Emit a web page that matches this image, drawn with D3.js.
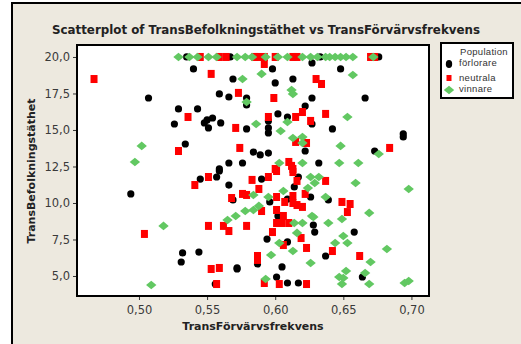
<!DOCTYPE html>
<html>
<head>
<meta charset="utf-8">
<script src="https://cdn.jsdelivr.net/npm/d3@7"></script>
<style>
  body { margin: 0; background: #fff; }
  svg text { font-family: "DejaVu Sans", Verdana, sans-serif; }
  svg .legend text { font-family: "Liberation Sans", Arial, sans-serif; }
</style>
</head>
<body>
<svg id="chart"></svg>
<script>
// förlorare (black circles)
const forlorare = [
  [0.535,20],[0.567,20],[0.633,20],[0.676,20],
  [0.540,19.18],[0.507,17.19],[0.529,16.44],[0.543,16.44],[0.526,15.41],[0.534,14.04],
  [0.494,10.62],[0.545,11.64],[0.532,6.58],[0.531,5.96],[0.544,6.64],[0.556,4.45],
  [0.572,5.55],[0.572,5.48],[0.557,11.78],[0.559,12.19],[0.569,10.21],[0.566,11.23],
  [0.587,5.82],[0.590,11.64],[0.617,11.78],[0.614,11.10],[0.596,10.07],[0.609,10.27],
  [0.626,10.41],[0.602,9.11],[0.628,8.49],[0.629,8.01],[0.594,7.53],[0.609,7.33],
  [0.605,5.62],[0.601,4.93],[0.609,4.52],[0.617,4.52],[0.639,10.21],[0.658,8.01],
  [0.637,6.37],[0.664,4.93],[0.627,19.59],[0.648,19.18],[0.627,17.19],[0.666,17.19],
  [0.627,15.41],[0.642,15.07],[0.694,14.73],[0.694,14.52],[0.673,13.56],[0.632,12.74],
  [0.569,18.49],[0.598,19.18],[0.600,18.22],[0.613,18.49],[0.559,17.47],[0.566,17.26],
  [0.579,17.19],[0.579,16.71],[0.554,15.82],[0.550,15.69],[0.548,15.48],[0.551,15.14],
  [0.560,15.48],[0.579,15.07],[0.595,15.62],[0.595,15.14],[0.595,14.80],[0.602,16.10],
  [0.609,15.89],[0.622,16.64],[0.622,13.56],[0.584,13.49],[0.589,13.29],[0.595,13.42],
  [0.566,12.74],[0.576,12.74],[0.559,12.33]
];

// neutrala (red squares)
const neutrala = [
  [0.545,20],[0.559,20],[0.564,20],[0.585,20],[0.587,20],[0.592,20],[0.600,20],
  [0.613,20],[0.616,20],[0.670,20],[0.673,20],
  [0.467,18.49],[0.536,15.89],[0.529,13.56],[0.504,7.88],[0.541,11.23],[0.553,5.48],
  [0.557,4.45],[0.551,11.78],[0.568,10.34],[0.551,8.43],[0.562,8.43],[0.566,8.08],
  [0.579,8.43],[0.576,10.62],[0.579,10.55],[0.588,10.96],[0.583,11.58],[0.587,6.37],
  [0.587,6.10],[0.595,11.78],[0.601,12.19],[0.613,12.12],[0.616,11.51],[0.601,10.41],
  [0.607,10.07],[0.613,10.48],[0.613,10.00],[0.622,10.62],[0.616,9.86],[0.620,9.73],
  [0.590,9.45],[0.601,9.52],[0.606,9.11],[0.601,8.63],[0.605,8.63],[0.610,8.63],
  [0.598,8.01],[0.619,7.60],[0.606,7.12],[0.623,6.92],[0.559,5.55],[0.592,4.52],
  [0.603,4.45],[0.623,4.45],[0.637,11.51],[0.649,10.07],[0.655,9.93],[0.653,9.38],
  [0.642,6.71],[0.662,6.37],
  [0.553,18.84],[0.573,17.54],[0.571,15.14],[0.574,13.77],[0.592,19.52],[0.599,17.19],
  [0.630,18.49],[0.634,18.15],[0.595,15.89],[0.615,15.89],[0.620,16.23],[0.626,15.62],
  [0.637,16.10],[0.615,14.18],[0.623,14.11],[0.610,12.81],[0.612,12.54],[0.600,12.33],
  [0.613,12.33],[0.684,13.77]
];

// vinnare (green diamonds)
const vinnare = [
  [0.529,20],[0.537,20],[0.543,20],[0.551,20],[0.557,20],[0.572,20],[0.578,20],
  [0.583,20],[0.593,20],[0.602,20],[0.609,20],[0.620,20],[0.626,20],[0.631,20],
  [0.637,20],[0.640,20],[0.644,20],[0.648,20],[0.652,20],[0.657,20],[0.672,20],
  [0.502,13.91],[0.497,12.81],[0.518,8.43],[0.509,4.38],[0.565,8.84],[0.571,9.11],
  [0.578,9.45],[0.584,9.52],[0.584,10.55],[0.588,9.80],[0.595,10.41],[0.606,10.82],
  [0.626,11.78],[0.624,11.03],[0.614,8.63],[0.620,8.63],[0.627,9.11],[0.616,7.95],
  [0.603,7.26],[0.613,6.71],[0.597,6.44],[0.626,5.89],[0.593,4.79],[0.632,11.78],
  [0.629,11.37],[0.659,11.37],[0.698,10.96],[0.637,10.41],[0.669,9.32],[0.628,9.04],
  [0.649,8.90],[0.639,8.63],[0.650,7.74],[0.644,7.26],[0.653,7.26],[0.682,6.85],
  [0.670,5.96],[0.652,5.34],[0.666,5.21],[0.647,4.93],[0.650,4.86],[0.649,4.45],
  [0.669,4.45],[0.695,4.52],[0.698,4.66],
  [0.576,18.49],[0.590,18.84],[0.657,18.77],[0.579,16.92],[0.612,17.74],[0.613,17.47],
  [0.586,15.41],[0.609,15.55],[0.604,14.93],[0.653,15.89],[0.613,14.45],[0.620,14.52],
  [0.620,14.11],[0.648,13.91],[0.676,13.36],[0.603,12.74],[0.620,12.74],[0.647,12.74],
  [0.661,12.74]
];

const xTicks = [0.50, 0.55, 0.60, 0.65, 0.70];
const yTicks = [5.0, 7.5, 10.0, 12.5, 15.0, 17.5, 20.0];
const groupNames = ['förlorare', 'neutrala', 'vinnare'];

const W = 521, H = 344;
const plot = { left: 77, top: 45, right: 429, bottom: 296 };

const svg = d3.select('#chart').attr('width', W).attr('height', H);

// outer panel
svg.append('rect')
  .attr('x', 12).attr('y', 3).attr('width', W + 20).attr('height', H + 20)
  .attr('fill', '#ede9df').attr('stroke', '#000').attr('stroke-width', 2);

const x = d3.scaleLinear().domain([0.4545, 0.7129]).range([plot.left, plot.right]);
const y = d3.scaleLinear().domain([3.63, 20.82]).range([plot.bottom, plot.top]);

svg.append('rect')
  .attr('x', plot.left).attr('y', plot.top)
  .attr('width', plot.right - plot.left).attr('height', plot.bottom - plot.top)
  .attr('fill', '#fff');

const fmt = d => d3.format(d >= 1 ? '.1f' : '.2f')(d).replace('.', ',');

const xAxis = svg.append('g')
  .attr('transform', `translate(0,${plot.bottom})`)
  .call(d3.axisBottom(x).tickValues(xTicks).tickFormat(fmt).tickSize(4).tickPadding(6));
const yAxis = svg.append('g')
  .attr('transform', `translate(${plot.left},0)`)
  .call(d3.axisLeft(y).tickValues(yTicks).tickFormat(fmt).tickSize(4).tickPadding(3));

[xAxis, yAxis].forEach(a => {
  a.select('.domain').remove();
  a.selectAll('line').attr('stroke', '#333');
  a.selectAll('text').attr('fill', '#3a3a3a').style('font-size', '11.5px');
});

const marks = svg.append('g');

marks.selectAll('circle.f')
  .data(forlorare).enter()
  .append('circle')
  .attr('class', 'f')
  .attr('cx', d => x(d[0])).attr('cy', d => y(d[1]))
  .attr('r', 3.6)
  .attr('fill', '#000');

marks.selectAll('rect.n')
  .data(neutrala).enter()
  .append('rect')
  .attr('class', 'n')
  .attr('x', d => x(d[0]) - 3.5).attr('y', d => y(d[1]) - 4)
  .attr('width', 7).attr('height', 8)
  .attr('fill', '#ff0000');

const diamond = 'M0,-4.3L5.2,0L0,4.3L-5.2,0Z';
marks.selectAll('path.v')
  .data(vinnare).enter()
  .append('path')
  .attr('class', 'v')
  .attr('d', diamond)
  .attr('transform', d => `translate(${x(d[0])},${y(d[1])})`)
  .attr('fill', '#62c862');

// plot frame
svg.append('rect')
  .attr('x', plot.left).attr('y', plot.top)
  .attr('width', plot.right - plot.left).attr('height', plot.bottom - plot.top)
  .attr('fill', 'none').attr('stroke', '#000').attr('stroke-width', 2);

// titles
svg.append('text')
  .attr('x', 266).attr('y', 34)
  .attr('text-anchor', 'middle')
  .attr('font-weight', 'bold').style('font-size', '12.5px').attr('fill', '#222')
  .attr('textLength', 428).attr('lengthAdjust', 'spacingAndGlyphs')
  .text('Scatterplot of TransBefolkningstäthet vs TransFörvärvsfrekvens');

svg.append('text')
  .attr('x', 253).attr('y', 330)
  .attr('text-anchor', 'middle')
  .attr('font-weight', 'bold').style('font-size', '11px').attr('fill', '#222')
  .text('TransFörvärvsfrekvens');

svg.append('text')
  .attr('transform', `translate(35,171) rotate(-90)`)
  .attr('text-anchor', 'middle')
  .attr('font-weight', 'bold').style('font-size', '11px').attr('fill', '#222')
  .text('TransBefolkningstäthet');

// legend
const lg = svg.append('g').attr('class', 'legend');
lg.append('rect')
  .attr('x', 441).attr('y', 43).attr('width', 72).attr('height', 55)
  .attr('fill', '#fff').attr('stroke', '#000').attr('stroke-width', 2);
lg.append('text').attr('x', 460).attr('y', 55)
  .style('font-size', '9.5px').style('letter-spacing', '0.3px').attr('fill', '#333').text('Population');

const rows = [66, 81, 92];
lg.selectAll('text.item')
  .data(groupNames).enter()
  .append('text')
  .attr('class', 'item')
  .attr('x', 459).attr('y', (d, i) => rows[i])
  .style('font-size', '9.5px').style('letter-spacing', '0.3px').attr('fill', '#333')
  .text(d => d);

lg.append('ellipse').attr('cx', 449).attr('cy', 64).attr('rx', 3.2).attr('ry', 4).attr('fill', '#000');
lg.append('rect').attr('x', 446.5).attr('y', 75).attr('width', 5).attr('height', 6).attr('fill', '#ff0000');
lg.append('path').attr('d', diamond).attr('transform', 'translate(449,90)').attr('fill', '#62c862');
</script>
</body>
</html>
